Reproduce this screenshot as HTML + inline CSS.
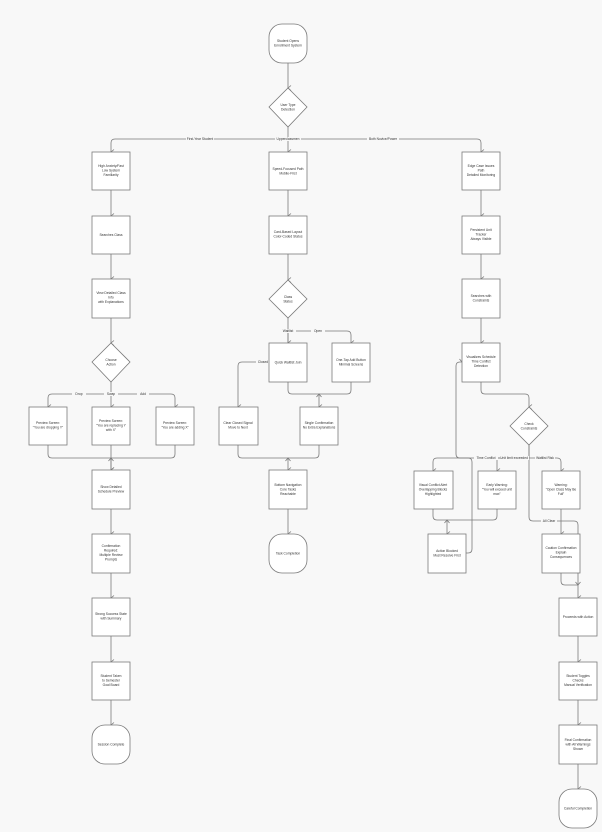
<!DOCTYPE html>
<html><head><meta charset="utf-8"><style>
html,body{margin:0;padding:0;background:#f8f8f8}
svg{display:block}
text{font-family:"Liberation Sans",sans-serif;font-size:3.3px;fill:#333;text-anchor:middle}
.b{fill:#fff;stroke:#7a7a7a;stroke-width:0.8}
.l{fill:none;stroke:#7a7a7a;stroke-width:0.8}
.lb{fill:#f8f8f8}
</style></head><body>
<svg width="602" height="832" viewBox="0 0 602 832" xmlns="http://www.w3.org/2000/svg">
<defs><marker id="a" markerWidth="6" markerHeight="6" refX="3" refY="5" orient="auto" markerUnits="userSpaceOnUse" viewBox="0 0 6 6"><path d="M0.5,2 L3,5 L5.5,2" fill="none" stroke="#7a7a7a" stroke-width="0.8"/></marker></defs>

<!-- connectors -->
<g class="l" marker-end="url(#a)">
<path d="M288,63 V88"/>
<path d="M288,127 V139 H115 Q111,139 111,143 V152"/>
<path d="M288,139 V152"/>
<path d="M288,139 H477 Q481,139 481,143 V152"/>
<path d="M111,190 V216"/><path d="M111,254 V279"/><path d="M111,318 V343"/>
<path d="M111,382 V394 H52 Q48,394 48,398 V407"/>
<path d="M111,394 V407"/>
<path d="M111,394 H171 Q175,394 175,398 V407"/>
<path d="M48,445 V454 Q48,458 52,458 H111 V470"/>
<path d="M175,445 V454 Q175,458 171,458 H111"/>
<path d="M111,445 V470"/>
<path d="M111,509 V534"/><path d="M111,573 V598"/><path d="M111,636 V662"/><path d="M111,700 V725"/>
<path d="M288,190 V216"/><path d="M288,254 V280"/>
<path d="M288,318 V343"/>
<path d="M288,331 H347 Q351,331 351,335 V343"/>
<path d="M288,331 V362 H242 Q238,362 238,366 V407"/>
<path d="M288,382 V390 Q288,394 292,394 H319 V407"/>
<path d="M351,382 V390 Q351,394 347,394 H319"/>
<path d="M238,445 V454 Q238,458 242,458 H288 V470"/>
<path d="M319,445 V454 Q319,458 315,458 H288"/>
<path d="M288,509 V534"/>
<path d="M481,190 V216"/><path d="M481,254 V279"/><path d="M481,318 V343"/>
<path d="M481,382 V390 Q481,394 485,394 H525 Q529,394 529,398 V407"/>
<path d="M529,445 V458 H437 Q433,458 433,462 V471"/>
<path d="M529,458 H497 V471"/>
<path d="M529,458 H557 Q561,458 561,462 V471"/>
<path d="M433,509 V516 Q433,520 437,520 H447 V534"/>
<path d="M497,509 V516 Q497,520 493,520 H447"/>
<path d="M466,553 H468 Q472,553 472,549 V462 Q472,458 468,458 H460 Q456,458 456,454 V366 Q456,362 460,362 H462"/>
<path d="M529,445 V517 Q529,521 533,521 H574 Q578,521 578,525 V598"/>
<path d="M561,509 V534"/>
<path d="M561,573 V581 Q561,585 565,585 H578"/>
<path d="M578,636 V662"/><path d="M578,700 V725"/><path d="M578,764 V789"/>
</g>

<!-- edge labels -->
<g>
<rect class="lb" x="186" y="137" width="28" height="4"/><text x="200" y="140">First-Year Student</text>
<rect class="lb" x="275" y="137" width="26" height="4"/><text x="288" y="140">Upperclassmen</text>
<rect class="lb" x="367" y="137" width="32" height="4"/><text x="383" y="140">Both Novice/Power</text>
<rect class="lb" x="72" y="392" width="14" height="4"/><text x="79" y="395">Drop</text>
<rect class="lb" x="104" y="392" width="14" height="4"/><text x="111" y="395">Swap</text>
<rect class="lb" x="137" y="392" width="12" height="4"/><text x="143" y="395">Add</text>
<rect class="lb" x="280" y="329" width="16" height="4"/><text x="288" y="332">Waitlist</text>
<rect class="lb" x="311" y="329" width="14" height="4"/><text x="318" y="332">Open</text>
<rect class="lb" x="256" y="360" width="14" height="4"/><text x="263" y="363">Closed</text>
<rect class="lb" x="474" y="456" width="24" height="4"/><text x="486" y="459">Time Conflict</text>
<rect class="lb" x="500" y="456" width="29" height="4"/><text x="514" y="459">Unit limit exceeded</text>
<rect class="lb" x="535" y="456" width="20" height="4"/><text x="545" y="459">Waitlist Risk</text>
<rect class="lb" x="541" y="519" width="16" height="4"/><text x="549" y="522">All Clear</text>
</g>

<!-- nodes -->
<g>
<rect class="b" x="269" y="24" width="38" height="39" rx="13"/><text x="288" y="42">Student Opens</text><text x="288" y="46.5">Enrollment System</text>
<path class="b" d="M288,88 L307,107 L288,127 L269,107 Z"/><text x="288" y="106">User Type</text><text x="288" y="110.5">Detection</text>

<rect class="b" x="92" y="152" width="38" height="38"/><text x="111" y="167">High Anxiety/Fast</text><text x="111" y="171.5">Low System</text><text x="111" y="176">Familiarity</text>
<rect class="b" x="92" y="216" width="38" height="38"/><text x="111" y="236">Searches Class</text>
<rect class="b" x="92" y="279" width="38" height="39"/><text x="111" y="294">View Detailed Class</text><text x="111" y="298.5">Info</text><text x="111" y="303">with Explanations</text>
<path class="b" d="M111,343 L130,362 L111,382 L92,362 Z"/><text x="111" y="361">Choose</text><text x="111" y="365.5">Action</text>
<rect class="b" x="29" y="407" width="38" height="38"/><text x="48" y="424">Preview Screen:</text><text x="48" y="428.5">"You are dropping Y"</text>
<rect class="b" x="92" y="407" width="38" height="38"/><text x="111" y="422">Preview Screen:</text><text x="111" y="426.5">"You are replacing Y</text><text x="111" y="431">with X"</text>
<rect class="b" x="156" y="407" width="38" height="38"/><text x="175" y="424">Preview Screen:</text><text x="175" y="428.5">"You are adding X"</text>
<rect class="b" x="92" y="470" width="38" height="39"/><text x="111" y="488">Show Detailed</text><text x="111" y="492.5">Schedule Preview</text>
<rect class="b" x="92" y="534" width="38" height="39"/><text x="111" y="547">Confirmation</text><text x="111" y="551.5">Required:</text><text x="111" y="556">Multiple Review</text><text x="111" y="560.5">Prompts</text>
<rect class="b" x="92" y="598" width="38" height="38"/><text x="111" y="615">Strong Success State</text><text x="111" y="619.5">with Summary</text>
<rect class="b" x="92" y="662" width="38" height="38"/><text x="111" y="677">Student Taken</text><text x="111" y="681.5">to Semester</text><text x="111" y="686">Goal Board</text>
<rect class="b" x="92" y="725" width="38" height="39" rx="13"/><text x="111" y="745.5">Session Complete</text>

<rect class="b" x="269" y="152" width="38" height="38"/><text x="288" y="170">Speed-Focused Path</text><text x="288" y="174.5">Mobile-First</text>
<rect class="b" x="269" y="216" width="38" height="38"/><text x="288" y="233">Card-Based Layout</text><text x="288" y="237.5">Color-Coded Status</text>
<path class="b" d="M288,280 L307,299 L288,318 L269,299 Z"/><text x="288" y="298">Class</text><text x="288" y="302.5">Status</text>
<rect class="b" x="269" y="343" width="38" height="39"/><text x="288" y="363.5">Quick Waitlist Join</text>
<rect class="b" x="332" y="343" width="38" height="39"/><text x="351" y="361">One-Tap Add Button</text><text x="351" y="365.5">Minimal Screens</text>
<rect class="b" x="219" y="407" width="39" height="38"/><text x="238" y="424">Clear Closed Signal</text><text x="238" y="428.5">Move to Next</text>
<rect class="b" x="300" y="407" width="38" height="38"/><text x="319" y="424">Single Confirmation</text><text x="319" y="428.5">No Extra Explanations</text>
<rect class="b" x="269" y="470" width="38" height="39"/><text x="288" y="486">Bottom Navigation</text><text x="288" y="490.5">Core Tasks</text><text x="288" y="495">Reachable</text>
<rect class="b" x="269" y="534" width="38" height="39" rx="13"/><text x="288" y="554.5">Task Completion</text>

<rect class="b" x="462" y="152" width="38" height="38"/><text x="481" y="167">Edge Case Issues</text><text x="481" y="171.5">Path</text><text x="481" y="176">Detailed Monitoring</text>
<rect class="b" x="462" y="216" width="38" height="38"/><text x="481" y="231">Persistent Unit</text><text x="481" y="235.5">Tracker</text><text x="481" y="240">Always Visible</text>
<rect class="b" x="462" y="279" width="38" height="39"/><text x="481" y="297">Searches with</text><text x="481" y="301.5">Constraints</text>
<rect class="b" x="462" y="343" width="38" height="39"/><text x="481" y="358">Visualizes Schedule</text><text x="481" y="362.5">Time Conflict</text><text x="481" y="367">Detection</text>
<path class="b" d="M529,407 L548,426 L529,445 L510,426 Z"/><text x="529" y="425">Check</text><text x="529" y="429.5">Constraints</text>
<rect class="b" x="414" y="471" width="39" height="38"/><text x="433" y="486">Visual Conflict Alert</text><text x="433" y="490.5">Overlapping Blocks</text><text x="433" y="495">Highlighted</text>
<rect class="b" x="478" y="471" width="38" height="38"/><text x="497" y="486">Early Warning:</text><text x="497" y="490.5">"You will exceed unit</text><text x="497" y="495">max"</text>
<rect class="b" x="542" y="471" width="38" height="38"/><text x="561" y="486">Warning:</text><text x="561" y="490.5">"Open Class May Be</text><text x="561" y="495">Full"</text>
<rect class="b" x="428" y="534" width="38" height="39"/><text x="447" y="552">Action Blocked</text><text x="447" y="556.5">Must Resolve First</text>
<rect class="b" x="542" y="534" width="38" height="39"/><text x="561" y="549">Caution Confirmation</text><text x="561" y="553.5">Explain</text><text x="561" y="558">Consequences</text>
<rect class="b" x="559" y="598" width="38" height="38"/><text x="578" y="618">Proceeds with Action</text>
<rect class="b" x="559" y="662" width="38" height="38"/><text x="578" y="677">Student Toggles</text><text x="578" y="681.5">Checks</text><text x="578" y="686">Manual Verification</text>
<rect class="b" x="559" y="725" width="38" height="39"/><text x="578" y="741">Final Confirmation</text><text x="578" y="745.5">with All Warnings</text><text x="578" y="750">Shown</text>
<rect class="b" x="559" y="789" width="38" height="39" rx="13"/><text x="578" y="809.5">Careful Completion</text>
</g>
</svg>
</body></html>
